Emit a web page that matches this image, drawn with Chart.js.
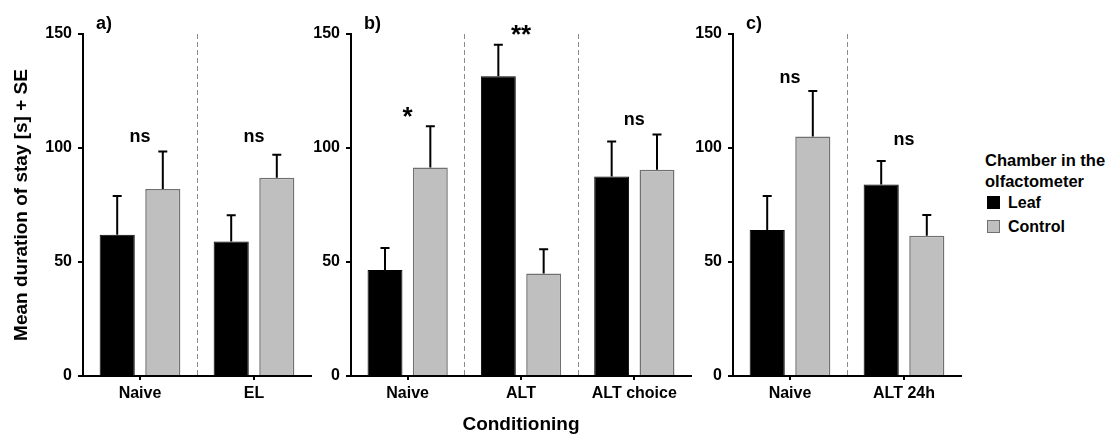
<!DOCTYPE html>
<html>
<head>
<meta charset="utf-8">
<script src="https://cdn.jsdelivr.net/npm/chart.js@4"></script>
<style>
  html, body { margin: 0; padding: 0; background: #fff; }
  body { width: 1107px; height: 434px; position: relative; overflow: hidden;
         font-family: "Liberation Sans", Arial, sans-serif; font-weight: bold; color: #000; }
  canvas { position: absolute; top: 0; }
  #legend { position: absolute; left: 985px; top: 150px; }
  #legend .ttl { font-size: 16.5px; line-height: 20.7px; }
  #legend .item { font-size: 16px; height: 23.6px; line-height: 23.6px; position: relative; padding-left: 23px; }
  #legend .sw { position: absolute; left: 2px; top: 5px; width: 11px; height: 11px; border: 1px solid #000; }
</style>
</head>
<body>
<canvas id="panelA" width="320" height="434" style="left:0px"></canvas>
<canvas id="panelB" width="400" height="434" style="left:300px"></canvas>
<canvas id="panelC" width="280" height="434" style="left:690px"></canvas>
<div id="legend">
  <div class="ttl">Chamber in the<br>olfactometer</div>
  <div class="item"><span class="sw" style="background:#000"></span>Leaf</div>
  <div class="item"><span class="sw" style="background:#bfbfbf;border-color:#707070"></span>Control</div>
</div>
<script>
// Mean duration of stay (s) and SE, per chamber and conditioning group
const yTicks = [0, 50, 100, 150];

const groupsA = ['Naive', 'EL'];
const leafA = [62, 59];
const leafSeA = [17, 11.5];
const ctrlA = [82, 87];
const ctrlSeA = [16.5, 10];
const sigA = ['ns', 'ns'];
const sigAtA = [102.8, 102.8];

const groupsB = ['Naive', 'ALT', 'ALT choice'];
const leafB = [46.5, 131.5, 87.5];
const leafSeB = [9.6, 13.8, 15.4];
const ctrlB = [91.5, 45, 90.5];
const ctrlSeB = [18, 10.6, 15.4];
const sigB = ['*', '**', 'ns'];
const sigAtB = [110, 146, 110];

const groupsC = ['Naive', 'ALT 24h'];
const leafC = [64, 84];
const leafSeC = [15, 10.3];
const ctrlC = [105, 61.5];
const ctrlSeC = [20, 9.1];
const sigC = ['ns', 'ns'];
const sigAtC = [128.5, 101.3];

const FONT = '"Liberation Sans", Arial, sans-serif';
Chart.defaults.font.family = FONT;
Chart.defaults.font.weight = 'bold';
Chart.defaults.color = '#000';

// dashed separators between conditioning groups
const separators = {
  id: 'separators',
  beforeDatasetsDraw(chart) {
    const { ctx, chartArea, scales: { x } } = chart;
    const n = chart.data.labels.length;
    ctx.save();
    ctx.strokeStyle = '#8c8c8c';
    ctx.lineWidth = 1;
    ctx.setLineDash([5, 3]);
    for (let i = 0; i < n - 1; i++) {
      const px = Math.round((x.getPixelForValue(i) + x.getPixelForValue(i + 1)) / 2) + 0.5;
      ctx.beginPath();
      ctx.moveTo(px, chartArea.top);
      ctx.lineTo(px, chartArea.bottom);
      ctx.stroke();
    }
    ctx.restore();
  }
};

// upper SE whiskers
const whiskers = {
  id: 'whiskers',
  afterDatasetsDraw(chart) {
    const { ctx, scales: { y } } = chart;
    ctx.save();
    ctx.strokeStyle = '#000';
    ctx.lineWidth = 2;
    chart.data.datasets.forEach((ds, di) => {
      chart.getDatasetMeta(di).data.forEach((bar, i) => {
        const top = y.getPixelForValue(ds.data[i] + ds.se[i]);
        ctx.beginPath();
        ctx.moveTo(bar.x, bar.y);
        ctx.lineTo(bar.x, top);
        ctx.moveTo(bar.x - 4.5, top);
        ctx.lineTo(bar.x + 4.5, top);
        ctx.stroke();
      });
    });
    ctx.restore();
  }
};

// significance marks and panel letter
const marks = {
  id: 'marks',
  afterDatasetsDraw(chart, args, opts) {
    const { ctx, chartArea, scales: { x, y } } = chart;
    ctx.save();
    ctx.fillStyle = '#000';
    ctx.textAlign = 'center';
    ctx.textBaseline = 'alphabetic';
    opts.text.forEach((t, i) => {
      ctx.font = (t.startsWith('*') ? 'bold 26px ' : 'bold 18px ') + FONT;
      ctx.fillText(t, x.getPixelForValue(i), y.getPixelForValue(opts.at[i]));
    });
    ctx.textAlign = 'left';
    ctx.font = 'bold 18px ' + FONT;
    ctx.fillText(opts.tag, chartArea.left + 13, 29);
    ctx.restore();
  }
};

function makePanel(id, groups, leaf, leafSe, ctrl, ctrlSe, sig, sigAt, tag, yWidth, yTitle, xTitle) {
  return new Chart(document.getElementById(id), {
    type: 'bar',
    data: {
      labels: groups,
      datasets: [
        { label: 'Leaf', data: leaf, se: leafSe, backgroundColor: '#000', borderColor: '#000', borderWidth: 1 },
        { label: 'Control', data: ctrl, se: ctrlSe, backgroundColor: '#bfbfbf', borderColor: '#707070', borderWidth: 1.5 }
      ]
    },
    options: {
      responsive: false,
      animation: false,
      categoryPercentage: 0.8,
      barPercentage: 0.77,
      layout: { padding: { top: 34, right: 9, left: 0, bottom: 0 } },
      plugins: {
        legend: { display: false },
        tooltip: { enabled: false },
        marks: { text: sig, at: sigAt, tag: tag }
      },
      scales: {
        x: {
          grid: { offset: false, drawOnChartArea: false, drawTicks: true, tickLength: 4, color: '#000', lineWidth: 2 },
          border: { color: '#000', width: 2 },
          ticks: { font: { size: 16, weight: 'bold' }, padding: 4, color: '#000' },
          title: { display: !!xTitle, text: xTitle || '', font: { size: 19, weight: 'bold' }, color: '#000', padding: { top: 0, bottom: -2 } },
          afterFit(s) { s.height = 58; }
        },
        y: {
          min: 0,
          max: 150,
          afterBuildTicks(s) { s.ticks = yTicks.map(v => ({ value: v })); },
          grid: { drawOnChartArea: false, drawTicks: true, tickLength: 5, color: '#000', lineWidth: 2 },
          border: { color: '#000', width: 2 },
          ticks: { font: { size: 16, weight: 'bold' }, padding: 6, color: '#000' },
          title: { display: !!yTitle, text: yTitle || '', font: { size: 19, weight: 'bold' }, color: '#000', padding: { top: 10, bottom: 0 } },
          afterFit(s) { s.width = yWidth; }
        }
      }
    },
    plugins: [separators, whiskers, marks]
  });
}

makePanel('panelA', groupsA, leafA, leafSeA, ctrlA, ctrlSeA, sigA, sigAtA, 'a)', 83, 'Mean duration of stay [s] + SE', null);
makePanel('panelB', groupsB, leafB, leafSeB, ctrlB, ctrlSeB, sigB, sigAtB, 'b)', 51, null, 'Conditioning');
makePanel('panelC', groupsC, leafC, leafSeC, ctrlC, ctrlSeC, sigC, sigAtC, 'c)', 43, null, null);
</script>
</body>
</html>
